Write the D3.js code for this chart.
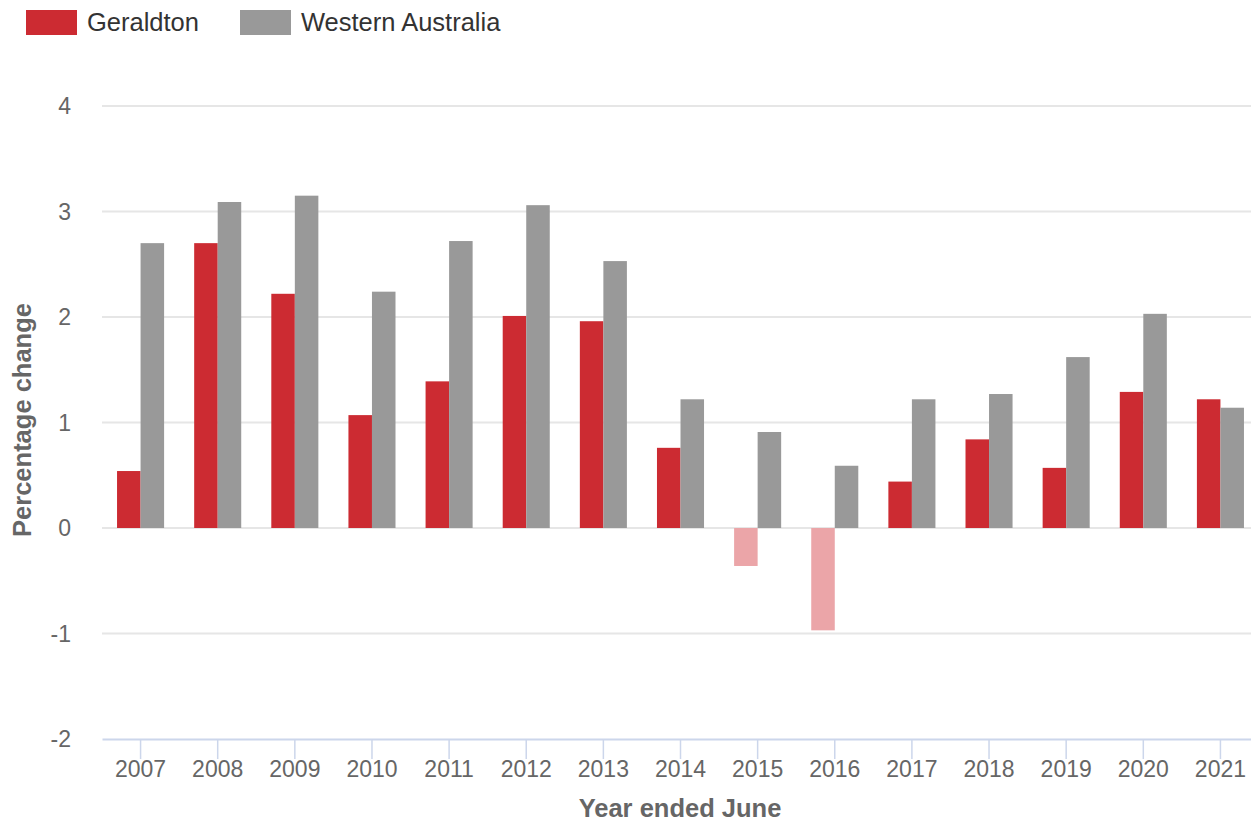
<!DOCTYPE html>
<html>
<head>
<meta charset="utf-8">
<script src="https://cdn.jsdelivr.net/npm/d3@7"></script>
<style>
  body { margin: 0; background: #fff; font-family: "Liberation Sans", Arial, sans-serif; }
</style>
</head>
<body>
<div id="chart"></div>
<script>
// data
const years = ['2007', '2008', '2009', '2010', '2011', '2012', '2013', '2014', '2015', '2016', '2017', '2018', '2019', '2020', '2021'];
const geraldton = [0.54, 2.70, 2.22, 1.07, 1.39, 2.01, 1.96, 0.76, -0.36, -0.97, 0.44, 0.84, 0.57, 1.29, 1.22];
const westernAustralia = [2.70, 3.09, 3.15, 2.24, 2.72, 3.06, 2.53, 1.22, 0.91, 0.59, 1.22, 1.27, 1.62, 2.03, 1.14];
const yTicks = [-2, -1, 0, 1, 2, 3, 4];
const seriesNames = ['Geraldton', 'Western Australia'];

const width = 1251,
    height = 822,
    margin = { top: 106, right: 0, bottom: 83, left: 102 },
    plotRight = 1259; // plot runs a little past the visible edge

const colors = { Geraldton: '#cc2b32', 'Western Australia': '#999999' },
    negColor = '#eba5a8';

let svg = d3.select('#chart').append('svg')
    .attr('width', width)
    .attr('height', height);

let x0 = d3.scaleBand()
    .domain(years)
    .range([margin.left, plotRight])
    .paddingInner(0.39)
    .paddingOuter(0.195);

let x1 = d3.scaleBand()
    .domain(seriesNames)
    .range([0, x0.bandwidth()]);

let y = d3.scaleLinear()
    .domain([-2, 4])
    .range([height - margin.bottom, margin.top]);

// gridlines
svg.append('g').selectAll('line')
    .data(yTicks.filter(d => d !== -2))
    .enter().append('line')
    .attr('x1', margin.left)
    .attr('x2', width)
    .attr('y1', d => y(d))
    .attr('y2', d => y(d))
    .style('stroke', '#e6e6e6')
    .style('stroke-width', 2);

// y tick labels
svg.append('g').selectAll('text')
    .data(yTicks)
    .enter().append('text')
    .attr('x', 71)
    .attr('y', d => y(d))
    .attr('dy', '0.35em')
    .attr('text-anchor', 'end')
    .style('font-size', '23px')
    .style('fill', '#666')
    .text(d => d);

// bars
let rows = years.map((yr, i) => ({ year: yr, values: [
    { key: 'Geraldton', value: geraldton[i] },
    { key: 'Western Australia', value: westernAustralia[i] }
] }));

svg.append('g').selectAll('g')
    .data(rows)
    .enter().append('g')
    .attr('transform', d => 'translate(' + x0(d.year) + ',0)')
    .selectAll('rect')
    .data(d => d.values)
    .enter().append('rect')
    .attr('x', d => x1(d.key))
    .attr('width', x1.bandwidth())
    .attr('y', d => y(Math.max(0, d.value)))
    .attr('height', d => Math.abs(y(d.value) - y(0)))
    .style('fill', d => (d.key === 'Geraldton' && d.value < 0) ? negColor : colors[d.key]);

// x axis
let xAxis = svg.append('g')
    .attr('transform', 'translate(0,' + y(-2) + ')')
    .call(d3.axisBottom(x0).tickSize(20).tickSizeOuter(0));

xAxis.select('.domain').style('stroke', '#ccd6eb').style('stroke-width', 2);
xAxis.selectAll('.tick line').style('stroke', '#ccd6eb').style('stroke-width', 1.5);
xAxis.selectAll('.tick text')
    .attr('y', 22)
    .attr('dy', '0.71em')
    .style('font-size', '23px')
    .style('font-family', '"Liberation Sans", Arial, sans-serif')
    .style('fill', '#666');

// axis titles
svg.append('text')
    .attr('x', 680)
    .attr('y', 817)
    .attr('text-anchor', 'middle')
    .style('font-size', '25.5px')
    .style('font-weight', 'bold')
    .style('fill', '#666')
    .text('Year ended June');

svg.append('text')
    .attr('transform', 'translate(31,' + 420 + ') rotate(-90)')
    .attr('text-anchor', 'middle')
    .style('font-size', '25.5px')
    .style('font-weight', 'bold')
    .style('fill', '#666')
    .text('Percentage change');

// legend
let legend = svg.append('g').selectAll('g')
    .data(seriesNames)
    .enter().append('g')
    .attr('transform', (d, i) => 'translate(' + [26, 240][i] + ',10)');

legend.append('rect')
    .attr('width', 51)
    .attr('height', 25)
    .style('fill', d => colors[d]);

legend.append('text')
    .attr('x', 61)
    .attr('y', 12.5)
    .attr('dy', '0.35em')
    .style('font-size', '25.5px')
    .style('fill', '#333')
    .text(d => d);
</script>
</body>
</html>
